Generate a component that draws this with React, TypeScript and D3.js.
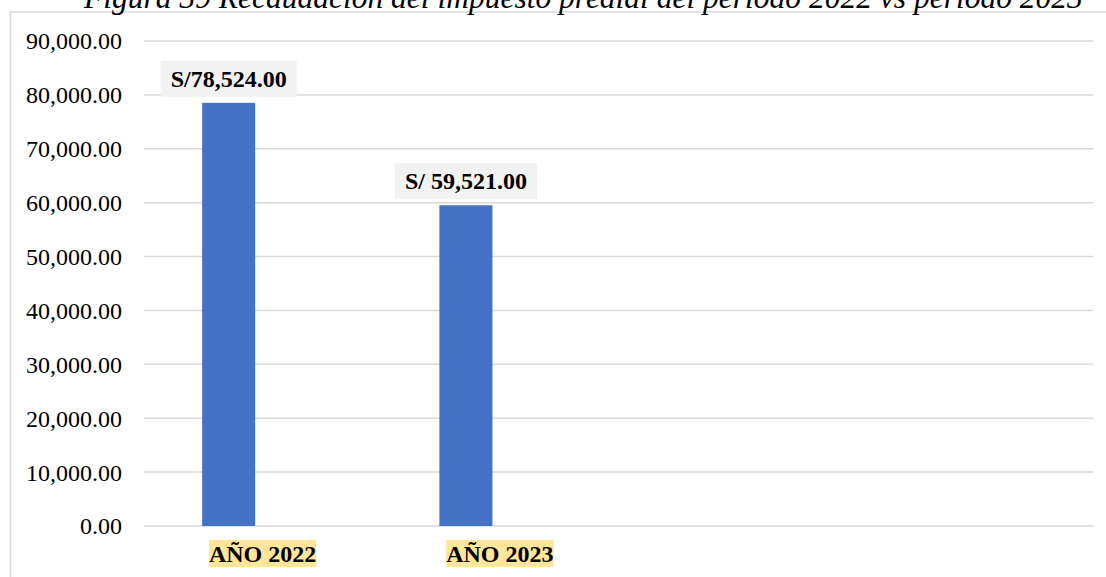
import React from "react";
import * as d3 from "d3";

const titleText = "Figura 39 Recaudación del impuesto predial del período 2022 vs período 2023";
const categories = ["AÑO 2022", "AÑO 2023"];
const emptySlots = ["_slot3", "_slot4"];
const values = [78524, 59521];
const valueLabels = ["S/78,524.00", "S/ 59,521.00"];
const yTicks = [0, 10000, 20000, 30000, 40000, 50000, 60000, 70000, 80000, 90000];

const W = 1106;
const H = 577;
const plot = { left: 144, right: 1093, top: 41, bottom: 526 };
const FONT = "'Liberation Serif', 'Times New Roman', serif";

function measure(text: string, font: string): number {
  const c = document.createElement("canvas").getContext("2d");
  if (!c) return text.length * 12;
  c.font = font;
  return c.measureText(text).width;
}

export default function App() {
  const x = d3
    .scaleBand<string>()
    .domain([...categories, ...emptySlots])
    .range([plot.left, plot.right]);
  const y = d3.scaleLinear().domain([0, 90000]).range([plot.bottom, plot.top]);
  const fmt = d3.format(",.2f");
  const bw = x.bandwidth();
  const barOffset = bw * 0.245;
  const barW = bw * 0.2236;

  return (
    <svg
      width={W}
      height={H}
      style={{ position: "absolute", left: 0, top: 0, background: "#fff" }}
      fontFamily={FONT}
    >
      <rect x={10.5} y={12} width={1300} height={800} fill="#fff" stroke="#d9d9d9" strokeWidth={1.5} />
      <text x={84} y={8} fontSize={31.5} fontStyle="italic" fill="#000">
        {titleText}
      </text>
      {yTicks.map((t) => (
        <g key={t}>
          <line x1={plot.left} x2={plot.right} y1={y(t)} y2={y(t)} stroke="#d9d9d9" strokeWidth={1.5} />
          <text x={122} y={y(t)} dy="0.35em" textAnchor="end" fontSize={24} fill="#000">
            {fmt(t)}
          </text>
        </g>
      ))}
      {categories.map((c, i) => {
        const bx = (x(c) as number) + barOffset;
        const cx = bx + barW / 2;
        const top = y(values[i]);
        const lw = measure(valueLabels[i], `bold 24px ${FONT}`);
        const boxW = lw + 20;
        const boxH = 36;
        const boxY = top - 6 - boxH;
        const catCx = (x(c) as number) + bw / 2;
        const cw = measure(c, `bold 24px ${FONT}`);
        return (
          <g key={c}>
            <rect x={bx} y={top} width={barW} height={plot.bottom - top} fill="#4472c4" />
            <rect x={cx - boxW / 2} y={boxY} width={boxW} height={boxH} fill="#f2f2f2" />
            <text x={cx} y={boxY + 26} textAnchor="middle" fontSize={24} fontWeight="bold" fill="#000">
              {valueLabels[i]}
            </text>
            <rect x={catCx - cw / 2} y={540} width={cw} height={27} fill="#ffe699" />
            <text x={catCx} y={562} textAnchor="middle" fontSize={24} fontWeight="bold" fill="#000">
              {c}
            </text>
          </g>
        );
      })}
    </svg>
  );
}
